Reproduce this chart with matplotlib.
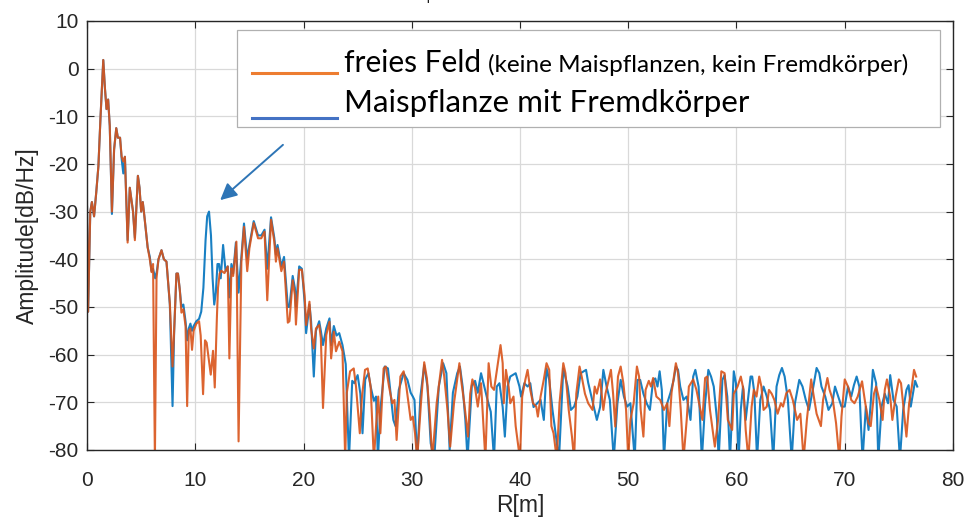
#!/usr/bin/env python3
"""Range profile: free field vs. maize plant with foreign object."""

import matplotlib.pyplot as plt
import numpy as np
from matplotlib.patches import Rectangle

# (range in m, amplitude in dB/Hz) vertices, free field (no plants, no object)
FREE_FIELD = [
    (0.0, -29), (0.1, -51), (0.3, -30), (0.45, -28), (0.65, -31), (0.85, -26), (1.05, -20.5), (1.25, -10), (1.5, 1.8), (1.65, -4),
    (1.8, -8.5), (1.95, -6.5), (2.1, -12), (2.3, -30), (2.5, -17), (2.7, -12.5), (2.85, -14.5), (3.05, -14.5), (3.2, -18.5), (3.35, -19.5),
    (3.5, -18.5), (3.75, -36.5), (3.95, -25), (4.1, -27.5), (4.25, -30), (4.42, -36), (4.7, -22.5), (4.85, -25), (5.0, -30), (5.15, -28),
    (5.3, -31), (5.6, -37.5), (5.8, -40), (5.96, -42.7), (6.1, -41), (6.27, -82), (6.42, -44), (6.6, -40), (6.88, -38.1), (7.1, -40),
    (7.34, -40.5), (7.65, -49.2), (7.9, -62.5), (8.05, -55), (8.26, -43), (8.4, -43), (8.57, -46.4), (8.72, -51.2), (8.9, -50.5), (9.1, -54),
    (9.25, -70.8), (9.4, -55), (9.55, -54.5), (9.7, -59), (9.85, -55), (10.1, -53.5), (10.35, -53), (10.5, -56), (10.72, -68.3), (10.9, -57),
    (11.05, -57.5), (11.25, -61), (11.43, -64.2), (11.64, -59.2), (11.8, -66.9), (12.0, -52), (12.1, -46), (12.25, -43), (12.4, -42.4), (12.7, -42.9),
    (13.0, -41.5), (13.15, -60.8), (13.34, -41.9), (13.5, -43.5), (13.8, -36.3), (14.0, -78.2), (14.26, -40.5), (14.5, -33.2), (14.8, -42.5), (15.0, -37.7),
    (15.4, -32.4), (15.8, -35.6), (16.1, -35.6), (16.4, -34.2), (16.65, -48.6), (17.0, -31.7), (17.3, -36.3), (17.45, -40.5), (17.6, -37.7), (17.95, -42.5),
    (18.2, -40.5), (18.35, -46), (18.55, -53.3), (18.7, -53), (19.0, -44.4), (19.2, -47.5), (19.3, -53.7), (19.6, -42.2), (19.85, -42.2), (20.1, -47.5),
    (20.24, -53.8), (20.55, -48.9), (20.7, -54.5), (20.95, -58.7), (21.15, -54.5), (21.45, -53.8), (21.6, -56.5), (21.8, -71.2), (22.1, -55.9), (22.4, -53.1),
    (22.55, -60.8), (22.8, -55.2), (23.0, -59.3), (23.3, -57.3), (23.6, -59.3), (23.85, -82), (24.0, -68), (24.3, -63.5), (24.64, -62.9), (24.85, -66.7),
    (25.2, -76.5), (25.4, -68.8), (25.68, -63.2), (25.93, -62.9), (26.2, -66.7), (26.5, -82), (26.7, -75), (26.9, -68.8), (27.1, -76.5), (27.4, -62.9),
    (27.6, -62.5), (27.9, -66.7), (28.2, -70.2), (28.4, -69.5), (28.6, -77.9), (28.95, -64.6), (29.25, -63.5), (29.5, -66.7), (29.9, -73.7), (30.1, -73),
    (30.3, -76.5), (30.5, -82), (30.85, -70.2), (31.15, -61.6), (31.4, -65), (31.65, -72.4), (31.9, -82), (32.3, -70.2), (32.8, -61.1), (33.0, -64.6),
    (33.3, -71.6), (33.55, -79.3), (33.9, -70.2), (34.4, -61.8), (34.6, -66), (34.85, -70.2), (35.2, -77.2), (35.4, -68.2), (35.6, -65.2), (35.85, -67),
    (36.1, -70.9), (36.4, -66), (36.8, -82), (37.1, -61.8), (37.35, -66.7), (37.6, -67.4), (38.2, -58), (38.4, -61.8), (38.5, -70.2), (38.7, -63.2),
    (38.95, -66.7), (39.1, -70.2), (39.4, -68.8), (39.6, -75), (40.0, -82), (40.2, -68.8), (40.5, -65.2), (40.7, -63.2), (40.95, -67.4), (41.2, -70.2),
    (41.5, -70.9), (41.65, -73), (41.9, -68.8), (42.2, -65.2), (42.45, -61.8), (42.7, -63.2), (42.9, -75), (43.1, -76.5), (43.4, -82), (43.65, -70.2),
    (44.0, -61.8), (44.2, -63.9), (44.5, -71.6), (44.8, -77.2), (45.0, -82), (45.2, -68.2), (45.5, -62.5), (45.7, -64.6), (46.0, -68.2), (46.3, -70.2),
    (46.7, -71.6), (46.9, -66.7), (47.1, -68.2), (47.4, -65.2), (47.7, -71.6), (47.9, -68.2), (48.4, -63.2), (48.6, -68.2), (48.8, -75.1), (49.05, -64.6),
    (49.3, -62.5), (49.55, -66), (49.8, -71.6), (50.0, -82), (50.2, -73.7), (50.5, -70.2), (50.8, -62.5), (51.0, -64.6), (51.15, -71.6), (51.4, -77.2),
    (51.6, -67.4), (51.9, -65.5), (52.1, -66.7), (52.3, -64.9), (52.6, -68.8), (52.95, -69.5), (53.3, -71.6), (53.6, -70.2), (53.8, -75), (54.0, -68),
    (54.4, -61.8), (54.6, -63.9), (54.85, -71.6), (55.1, -82), (55.4, -73.7), (55.6, -66.7), (56.0, -65.2), (56.3, -67.4), (56.6, -70.9), (56.85, -73.7),
    (57.1, -64.9), (57.3, -64.6), (57.55, -71.6), (57.8, -75.8), (58.0, -79.3), (58.3, -73.7), (58.6, -63.5), (58.9, -63.9), (59.2, -73.7), (59.6, -75.8),
    (59.75, -68.2), (60.1, -66.7), (60.4, -64.6), (60.65, -67.4), (60.85, -75.8), (61.1, -82), (61.4, -70.9), (61.6, -67.4), (61.85, -68.8), (62.1, -64.6),
    (62.3, -66.7), (62.5, -71.6), (62.8, -70.9), (63.0, -67.4), (63.25, -68.2), (63.5, -69.5), (63.8, -72.4), (64.1, -70.2), (64.3, -70.9), (64.6, -68.1),
    (64.9, -67.4), (65.2, -69.5), (65.6, -73.7), (65.9, -72.4), (66.2, -82), (66.5, -73.7), (66.9, -65.2), (67.1, -68.2), (67.4, -72.4), (67.8, -75),
    (68.0, -69.5), (68.4, -64.9), (68.6, -67.4), (68.9, -69.5), (69.2, -74.4), (69.5, -82), (69.7, -73), (70.0, -65.2), (70.3, -66.7), (70.6, -69.5),
    (70.9, -70.2), (71.2, -68.8), (71.6, -65.6), (71.85, -69.5), (72.2, -74.4), (72.4, -75), (72.7, -68.2), (72.9, -66.7), (73.2, -69.5), (73.5, -73.7),
    (73.7, -67.4), (73.9, -65.2), (74.2, -68.8), (74.4, -73.7), (74.7, -68.8), (75.0, -65.2), (75.2, -66), (75.45, -71.6), (75.7, -77.2), (75.95, -70.2),
    (76.2, -66.7), (76.4, -63.2), (76.6, -64.6),
]

# maize plant with a foreign object in front of the radar
PLANT_OBJECT = [
    (0.0, -29), (0.1, -51), (0.3, -30), (0.45, -28), (0.65, -31), (0.85, -26), (1.05, -20.5), (1.25, -10), (1.5, 1.8), (1.65, -4),
    (1.8, -8.5), (1.95, -6.5), (2.1, -12), (2.3, -30.5), (2.5, -17), (2.7, -12.5), (2.85, -14.5), (3.05, -14.5), (3.2, -19), (3.35, -22),
    (3.5, -18.5), (3.75, -36), (3.95, -25), (4.1, -27.5), (4.25, -30), (4.42, -35.5), (4.7, -22.5), (4.85, -25), (5.0, -30), (5.15, -28),
    (5.3, -31), (5.6, -37.5), (5.8, -39.5), (5.96, -42.5), (6.1, -42), (6.3, -44), (6.45, -42.5), (6.6, -40), (6.88, -38.1), (7.1, -40),
    (7.34, -40.5), (7.65, -49.5), (7.9, -70.8), (8.05, -55), (8.26, -43), (8.4, -43), (8.57, -46.4), (8.72, -50), (8.9, -49.5), (9.1, -53),
    (9.25, -57), (9.4, -54.5), (9.55, -53.5), (9.7, -55), (9.85, -54), (10.1, -53), (10.35, -52.5), (10.55, -51), (10.75, -46), (10.95, -36),
    (11.1, -31), (11.27, -30), (11.45, -35), (11.6, -44), (11.75, -49.5), (11.9, -47), (12.05, -41), (12.2, -41), (12.35, -44), (12.57, -37),
    (12.8, -42.5), (13.0, -41.5), (13.15, -48), (13.34, -41), (13.5, -43), (13.75, -36.5), (14.0, -47), (14.26, -39.5), (14.5, -32.5), (14.8, -40),
    (15.0, -37), (15.4, -32), (15.8, -35), (16.1, -35), (16.4, -33.8), (16.65, -42), (17.0, -31.2), (17.3, -35.5), (17.45, -39), (17.6, -37),
    (17.95, -41.5), (18.2, -39.5), (18.35, -44), (18.55, -50), (18.7, -50), (19.0, -43.5), (19.2, -46), (19.3, -50), (19.6, -41.5), (19.85, -42),
    (20.1, -49), (20.24, -55.5), (20.55, -49.5), (20.7, -53), (20.95, -64.6), (21.15, -55), (21.45, -53), (21.6, -55), (21.8, -58), (22.1, -54.5),
    (22.4, -52.4), (22.55, -58), (22.8, -54), (23.05, -56), (23.3, -55.5), (23.6, -58), (23.9, -62), (24.2, -82), (24.5, -65.5), (24.7, -66),
    (25.0, -64.3), (25.25, -68.2), (25.45, -76.5), (25.7, -65.2), (26.0, -63.9), (26.2, -66.7), (26.5, -69.7), (26.7, -68.8), (26.87, -82), (27.1, -71.5),
    (27.5, -62.5), (27.8, -62.9), (28.1, -69.5), (28.3, -73.7), (28.5, -75), (28.8, -67.4), (29.25, -63.9), (29.6, -65.3), (29.9, -68), (30.1, -68.8),
    (30.25, -69.5), (30.5, -82), (30.8, -68.8), (31.15, -62.2), (31.45, -66.7), (31.75, -78.6), (32.07, -82), (32.5, -66.7), (32.9, -61.8), (33.2, -63.9),
    (33.5, -80), (33.8, -68), (34.2, -63.9), (34.45, -62.5), (34.7, -66.7), (34.95, -73.7), (35.15, -82), (35.55, -66.5), (35.85, -65.5), (36.1, -68),
    (36.4, -63.9), (36.7, -66.7), (37.0, -69.5), (37.3, -72), (37.6, -82), (37.85, -66.7), (38.1, -66), (38.4, -71), (38.6, -77.2), (38.85, -66.7),
    (39.1, -64.6), (39.6, -63.9), (39.95, -66.7), (40.1, -68.8), (40.4, -66), (40.7, -66.7), (40.95, -66), (41.25, -71), (41.6, -70.2), (41.9, -69.5),
    (42.2, -73.7), (42.45, -62.9), (42.7, -65.3), (43.0, -71.6), (43.2, -75), (43.6, -82), (44.0, -62.9), (44.4, -66.7), (44.7, -71.6), (45.0, -70.9),
    (45.3, -68.8), (45.6, -63.9), (46.1, -63.2), (46.3, -65.9), (46.6, -68.8), (46.9, -71.6), (47.1, -73.7), (47.4, -71), (47.7, -63.2), (48.0, -66.7),
    (48.3, -69.5), (48.66, -82), (49.0, -70.2), (49.3, -65.3), (49.6, -68.8), (49.9, -70.9), (50.2, -70.2), (50.6, -82), (50.85, -65.3), (51.1, -65.3),
    (51.4, -68.2), (51.7, -70.2), (52.0, -71.6), (52.3, -65.3), (52.5, -65), (52.7, -66.7), (52.9, -63.5), (53.1, -67.4), (53.3, -82), (53.6, -70.2),
    (53.9, -68), (54.2, -65.3), (54.4, -62.5), (54.6, -63.2), (54.8, -66.7), (55.1, -69.5), (55.4, -68.8), (55.75, -73.7), (56.0, -64.6), (56.2, -63.2),
    (56.5, -66.7), (56.8, -82), (57.1, -70.2), (57.4, -63.2), (57.65, -64.6), (57.9, -66.7), (58.2, -73.7), (58.35, -82), (58.7, -65.3), (58.9, -64.3),
    (59.15, -68.8), (59.4, -82), (59.75, -63.5), (59.95, -66), (60.2, -82), (60.4, -71.5), (60.6, -66.7), (60.85, -73.7), (61.3, -64.6), (61.45, -64.6),
    (61.65, -68), (61.9, -82), (62.2, -69.5), (62.5, -66.7), (62.8, -68.8), (63.1, -71.6), (63.4, -82), (63.7, -66.7), (63.95, -64.3), (64.2, -62.8),
    (64.45, -64.6), (64.75, -69.5), (65.1, -82), (65.4, -70.2), (65.8, -65.3), (66.1, -66.7), (66.4, -69.5), (66.7, -71.6), (67.1, -66.7), (67.4, -62.8),
    (67.65, -63.9), (67.85, -66.7), (68.2, -68.8), (68.5, -71.6), (68.85, -70.2), (69.1, -66.7), (69.4, -68.8), (69.7, -70.9), (70.0, -70.9), (70.3, -66.7),
    (70.6, -68.8), (70.85, -66.4), (71.1, -64.6), (71.35, -66.7), (71.5, -75), (71.65, -82), (71.95, -70.9), (72.2, -75.8), (72.4, -70.2), (72.6, -63.2),
    (72.9, -66), (73.1, -82), (73.4, -70.9), (73.7, -68.2), (74.0, -70.2), (74.2, -64.3), (74.5, -69.5), (74.8, -70.9), (75.1, -82), (75.4, -71.6),
    (75.7, -67.4), (75.9, -66.4), (76.1, -70.9), (76.3, -68.2), (76.5, -65.5), (76.7, -66.7),
]

X_TICKS = [0, 10, 20, 30, 40, 50, 60, 70, 80]
Y_TICKS = [-80, -70, -60, -50, -40, -30, -20, -10, 0, 10]

LABEL_FREE = "freies Feld"
LABEL_FREE_NOTE = "(keine Maispflanzen, kein Fremdkörper)"
LABEL_PLANT = "Maispflanze mit Fremdkörper"

BLUE = "#0072BD"
ORANGE = "#D95319"
AXIS_GREY = "#262626"

plt.rcParams["font.family"] = ["Liberation Sans", "DejaVu Sans"]
plt.rcParams["axes.unicode_minus"] = False

free_r, free_db = np.array(FREE_FIELD).T
plant_r, plant_db = np.array(PLANT_OBJECT).T

fig = plt.figure(figsize=(9.67, 5.22), dpi=100)
ax = fig.add_axes([0.090, 0.138, 0.8955, 0.822])

ax.plot(plant_r, plant_db, color=BLUE, lw=1.5, alpha=0.9)
ax.plot(free_r, free_db, color=ORANGE, lw=1.5, alpha=0.9)

ax.set_xlim(X_TICKS[0], X_TICKS[-1])
ax.set_ylim(Y_TICKS[0], Y_TICKS[-1])
ax.set_xticks(X_TICKS)
ax.set_yticks(Y_TICKS)
ax.grid(True, color="#d9d9d9", lw=0.9)
ax.set_axisbelow(True)
ax.tick_params(direction="in", length=5, width=0.8, top=True, right=True,
               colors=AXIS_GREY, labelsize=15)
ax.tick_params(axis="x", pad=15)
ax.tick_params(axis="y", pad=6)
for spine in ax.spines.values():
    spine.set_color(AXIS_GREY)
    spine.set_linewidth(1.0)
ax.set_xlabel("R[m]", fontsize=16.5, color=AXIS_GREY, labelpad=3)
ax.set_ylabel("Amplitude[dB/Hz]", fontsize=16.5, color=AXIS_GREY, labelpad=7)

# arrow pointing at the echo of the foreign object
ax.annotate("", xy=(12.3, -27.6), xytext=(18.1, -16.0),
            arrowprops=dict(arrowstyle="-|>", color="#2E75B6", lw=1.4,
                            mutation_scale=25, shrinkA=0, shrinkB=0))

# small stray mark above the plot frame
fig.text(428 / 967, 1 - 6 / 522, "'", fontsize=10, ha="center", va="center", color="black")

# legend text box laid over the plot
box = Rectangle((0.245, 0.757), 0.727, 0.186, transform=fig.transFigure,
                facecolor="white", edgecolor="#b0b0b0", lw=0.9, zorder=5)
fig.patches.append(box)
fig.lines.append(plt.Line2D([0.261, 0.349], [1 - 73 / 522] * 2, transform=fig.transFigure,
                            color="#ED7D31", lw=2.2, zorder=6))
fig.lines.append(plt.Line2D([0.261, 0.349], [1 - 118 / 522] * 2, transform=fig.transFigure,
                            color="#4472C4", lw=2.2, zorder=6))
t1 = fig.text(0.356, 1 - 72 / 522, LABEL_FREE, fontsize=21.5, family="Lato",
              va="baseline", ha="left", zorder=7)
fig.canvas.draw()
bb = t1.get_window_extent()
fig.text(bb.x1 / fig.bbox.width + 0.007, 1 - 72 / 522, LABEL_FREE_NOTE, fontsize=17.5,
         family="Lato", va="baseline", ha="left", zorder=7)
fig.text(0.356, 1 - 112 / 522, LABEL_PLANT, fontsize=22.5, family="Lato",
         va="baseline", ha="left", zorder=7)

fig.savefig("out.png", dpi=100)
